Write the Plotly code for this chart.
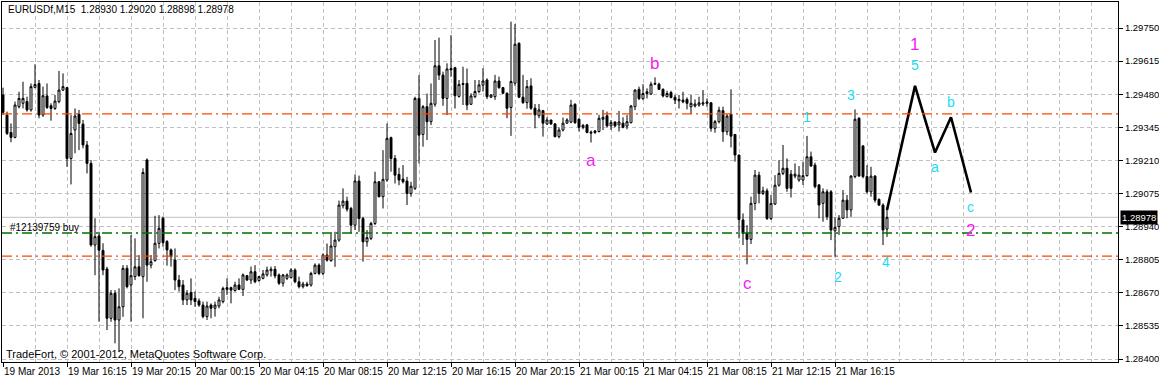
import plotly.graph_objects as go

# ---------------- data ----------------
bar_index = list(range(222))

open_ = [
1.29477,1.29395,1.29324,1.29304,1.29429,1.29443,1.29450,1.29416,1.29508,1.29524,
1.29395,1.29473,1.29433,1.29422,1.29450,1.29497,1.29507,1.29218,1.29334,1.29398,
1.29358,1.29273,1.29198,1.28865,1.28902,1.28843,1.28767,1.28566,1.28668,1.28559,
1.28613,1.28770,1.28702,1.28736,1.28776,1.28736,1.29212,1.28783,1.28801,1.28872,
1.28974,1.28879,1.28845,1.28804,1.28722,1.28702,1.28641,1.28671,1.28647,1.28637,
1.28620,1.28573,1.28620,1.28607,1.28616,1.28634,1.28691,1.28691,1.28679,1.28702,
1.28684,1.28740,1.28722,1.28756,1.28720,1.28729,1.28743,1.28760,1.28766,1.28743,
1.28709,1.28729,1.28732,1.28763,1.28715,1.28695,1.28706,1.28702,1.28749,1.28783,
1.28749,1.28824,1.28801,1.28858,1.28885,1.29025,1.29044,1.29014,1.28946,1.29126,
1.28973,1.28878,1.28892,1.28953,1.29123,1.29062,1.29130,1.29303,1.29218,1.29153,
1.29134,1.29126,1.29075,1.29096,1.29463,1.29316,1.29429,1.29368,1.29439,1.29596,
1.29558,1.29463,1.29585,1.29588,1.29471,1.29524,1.29524,1.29439,1.29470,1.29491,
1.29517,1.29538,1.29468,1.29470,1.29534,1.29507,1.29484,1.29426,1.29525,1.29688,
1.29468,1.29446,1.29514,1.29423,1.29392,1.29413,1.29359,1.29375,1.29359,1.29307,
1.29334,1.29362,1.29366,1.29439,1.29378,1.29345,1.29355,1.29321,1.29324,1.29328,
1.29378,1.29392,1.29351,1.29367,1.29355,1.29362,1.29350,1.29364,1.29429,1.29500,
1.29462,1.29490,1.29481,1.29521,1.29521,1.29500,1.29470,1.29487,1.29467,1.29453,
1.29456,1.29459,1.29429,1.29432,1.29436,1.29440,1.29443,1.29445,1.29341,1.29368,
1.29413,1.29327,1.29399,1.29316,1.29232,1.28967,1.28912,1.28888,1.29035,1.29150,
1.29075,1.29086,1.28973,1.29032,1.29109,1.29157,1.29178,1.29154,1.29146,1.29130,
1.29130,1.29148,1.29225,1.29191,1.29110,1.29035,1.29082,1.29082,1.28923,1.28940,
1.28974,1.29048,1.29008,1.29144,1.29382,1.29269,1.29144,1.29082,1.29146,1.29051,
1.29028,1.28930]

high = [
1.29507,1.29409,1.29361,1.29450,1.29490,1.29531,1.29470,1.29524,1.29602,1.29538,
1.29511,1.29524,1.29443,1.29477,1.29575,1.29565,1.29509,1.29395,1.29422,1.29416,
1.29375,1.29289,1.29212,1.28974,1.28919,1.28872,1.28776,1.28681,1.28681,1.28688,
1.28783,1.28783,1.28906,1.28892,1.28824,1.29178,1.29218,1.28824,1.28984,1.28987,
1.28981,1.28885,1.28851,1.28851,1.28743,1.28722,1.28681,1.28729,1.28675,1.28647,
1.28634,1.28634,1.28627,1.28634,1.28654,1.28695,1.28729,1.28695,1.28715,1.28729,
1.28749,1.28743,1.28777,1.28783,1.28739,1.28763,1.28777,1.28777,1.28779,1.28749,
1.28747,1.28749,1.28770,1.28770,1.28736,1.28715,1.28715,1.28756,1.28790,1.28790,
1.28831,1.28871,1.28912,1.28919,1.29046,1.29096,1.29062,1.29021,1.29153,1.29148,
1.28980,1.28926,1.28960,1.29164,1.29126,1.29252,1.29361,1.29307,1.29232,1.29180,
1.29191,1.29143,1.29123,1.29470,1.29558,1.29436,1.29483,1.29524,1.29701,1.29711,
1.29572,1.29606,1.29721,1.29592,1.29538,1.29592,1.29585,1.29484,1.29538,1.29538,
1.29586,1.29545,1.29481,1.29559,1.29552,1.29508,1.29487,1.29776,1.29767,1.29691,
1.29559,1.29538,1.29545,1.29440,1.29440,1.29416,1.29386,1.29375,1.29362,1.29345,
1.29385,1.29382,1.29457,1.29443,1.29382,1.29359,1.29359,1.29332,1.29334,1.29396,
1.29416,1.29409,1.29375,1.29368,1.29412,1.29386,1.29395,1.29436,1.29500,1.29511,
1.29521,1.29504,1.29531,1.29549,1.29527,1.29504,1.29494,1.29494,1.29477,1.29477,
1.29490,1.29467,1.29477,1.29459,1.29470,1.29497,1.29463,1.29448,1.29375,1.29429,
1.29429,1.29399,1.29500,1.29316,1.29232,1.28994,1.28946,1.29062,1.29171,1.29164,
1.29103,1.29096,1.29069,1.29150,1.29211,1.29273,1.29218,1.29171,1.29198,1.29187,
1.29205,1.29310,1.29246,1.29201,1.29114,1.29096,1.29092,1.29089,1.28978,1.28987,
1.29089,1.29069,1.29150,1.29418,1.29386,1.29273,1.29191,1.29184,1.29150,1.29055,
1.29035,1.29020]

low = [
1.29395,1.29314,1.29284,1.29300,1.29422,1.29422,1.29409,1.29409,1.29504,1.29382,
1.29388,1.29420,1.29372,1.29416,1.29443,1.29493,1.29184,1.29112,1.29239,1.29252,
1.29259,1.29157,1.28858,1.28742,1.28552,1.28742,1.28518,1.28552,1.28464,1.28430,
1.28572,1.28688,1.28552,1.28722,1.28736,1.28566,1.28715,1.28770,1.28797,1.28851,
1.28858,1.28781,1.28777,1.28681,1.28675,1.28620,1.28620,1.28620,1.28613,1.28613,
1.28566,1.28559,1.28566,1.28573,1.28607,1.28627,1.28661,1.28627,1.28675,1.28681,
1.28657,1.28719,1.28706,1.28709,1.28715,1.28725,1.28736,1.28736,1.28729,1.28702,
1.28695,1.28722,1.28729,1.28709,1.28688,1.28688,1.28695,1.28695,1.28745,1.28742,
1.28742,1.28797,1.28797,1.28776,1.28878,1.29014,1.29001,1.28912,1.28926,1.28919,
1.28797,1.28858,1.28885,1.28946,1.29059,1.29014,1.29123,1.29164,1.29116,1.29109,
1.29116,1.29028,1.29062,1.29089,1.29198,1.29266,1.29293,1.29354,1.29429,1.29538,
1.29433,1.29395,1.29551,1.29422,1.29466,1.29436,1.29415,1.29436,1.29464,1.29484,
1.29491,1.29460,1.29464,1.29457,1.29502,1.29481,1.29382,1.29310,1.29514,1.29464,
1.29440,1.29421,1.29416,1.29341,1.29382,1.29307,1.29355,1.29355,1.29304,1.29300,
1.29328,1.29359,1.29362,1.29359,1.29328,1.29337,1.29321,1.29283,1.29318,1.29324,
1.29334,1.29345,1.29334,1.29345,1.29328,1.29341,1.29337,1.29361,1.29415,1.29456,
1.29456,1.29463,1.29477,1.29517,1.29497,1.29467,1.29467,1.29463,1.29440,1.29422,
1.29443,1.29418,1.29399,1.29426,1.29429,1.29432,1.29429,1.29327,1.29323,1.29361,
1.29286,1.29313,1.29263,1.29205,1.28892,1.28865,1.28786,1.28869,1.29007,1.29035,
1.29069,1.28967,1.28967,1.29028,1.29103,1.29150,1.29082,1.29059,1.29137,1.29123,
1.29110,1.29144,1.29184,1.29096,1.28974,1.28960,1.28967,1.28885,1.28817,1.28906,
1.28971,1.28974,1.28980,1.29137,1.29144,1.29137,1.29076,1.29062,1.29038,1.29024,
1.28865,1.28898]

close = [
1.29406,1.29320,1.29304,1.29436,1.29463,1.29463,1.29416,1.29511,1.29520,1.29395,
1.29474,1.29426,1.29422,1.29452,1.29497,1.29511,1.29218,1.29320,1.29391,1.29361,
1.29273,1.29198,1.28865,1.28899,1.28844,1.28763,1.28566,1.28668,1.28559,1.28613,
1.28770,1.28695,1.28740,1.28776,1.28740,1.29161,1.28783,1.28797,1.28872,1.28933,
1.28875,1.28845,1.28817,1.28722,1.28695,1.28641,1.28668,1.28641,1.28634,1.28620,
1.28573,1.28616,1.28607,1.28620,1.28641,1.28688,1.28684,1.28681,1.28702,1.28684,
1.28743,1.28722,1.28756,1.28715,1.28736,1.28747,1.28763,1.28766,1.28739,1.28709,
1.28743,1.28743,1.28763,1.28715,1.28695,1.28706,1.28699,1.28749,1.28783,1.28749,
1.28824,1.28803,1.28861,1.28885,1.29028,1.29044,1.29011,1.28946,1.29126,1.28973,
1.28878,1.28895,1.28953,1.29123,1.29062,1.29133,1.29300,1.29218,1.29150,1.29130,
1.29123,1.29075,1.29105,1.29463,1.29313,1.29429,1.29368,1.29443,1.29596,1.29558,
1.29463,1.29583,1.29579,1.29474,1.29520,1.29520,1.29436,1.29473,1.29491,1.29518,
1.29534,1.29470,1.29477,1.29534,1.29507,1.29484,1.29423,1.29532,1.29684,1.29468,
1.29446,1.29511,1.29423,1.29396,1.29416,1.29362,1.29375,1.29359,1.29307,1.29334,
1.29362,1.29375,1.29436,1.29364,1.29345,1.29353,1.29324,1.29325,1.29330,1.29382,
1.29386,1.29351,1.29364,1.29351,1.29367,1.29345,1.29368,1.29432,1.29497,1.29462,
1.29483,1.29483,1.29521,1.29524,1.29500,1.29473,1.29483,1.29467,1.29456,1.29459,
1.29449,1.29443,1.29443,1.29440,1.29445,1.29445,1.29448,1.29341,1.29368,1.29415,
1.29327,1.29391,1.29309,1.29232,1.28969,1.28912,1.28888,1.29035,1.29150,1.29075,
1.29086,1.28973,1.29035,1.29109,1.29157,1.29178,1.29096,1.29096,1.29154,1.29150,
1.29148,1.29225,1.29187,1.29103,1.29028,1.29082,1.28980,1.28926,1.28937,1.28974,
1.29048,1.29008,1.29146,1.29378,1.29146,1.29144,1.29082,1.29146,1.29048,1.29028,
1.28926,1.28978]

# time axis labels (bar index of each label)
tick_bars = [0, 16, 32, 48, 64, 80, 96, 112, 128, 144, 160, 176, 192, 208]
tick_text = ["19 Mar 2013", "19 Mar 16:15", "19 Mar 20:15", "20 Mar 00:15",
             "20 Mar 04:15", "20 Mar 08:15", "20 Mar 12:15", "20 Mar 16:15",
             "20 Mar 20:15", "21 Mar 00:15", "21 Mar 04:15", "21 Mar 08:15",
             "21 Mar 12:15", "21 Mar 16:15"]

price_ticks = [1.28400, 1.28535, 1.28670, 1.28805, 1.28940, 1.29075,
               1.29210, 1.29345, 1.29480, 1.29615, 1.29750]
price_tick_text = ["1.28400", "1.28535", "1.28670", "1.28805", "1.28940", "1.29075",
                   "1.29210", "1.29345", "1.29480", "1.29615", "1.29750"]

# horizontal levels
level_upper = 1.29400
level_lower = 1.28820
order_price = 1.28914
bid_price = 1.28978

# projected wave path (bar index, price)
zz_bars = [221, 228, 233, 237, 242]
zz_prices = [1.29008, 1.29514, 1.29242, 1.29386, 1.29079]

# wave labels
cyan_text = ["1", "2", "3", "4", "5", "a", "b", "c"]
cyan_bars = [201, 208.8, 212, 220.8, 228, 233, 237, 241.9]
cyan_prices = [1.29389, 1.28736, 1.29477, 1.28797, 1.29600, 1.29185, 1.29450, 1.29021]

magenta_text = ["a", "b", "c", "1", "2"]
magenta_bars = [147, 162.8, 186, 227.8, 241.9]
magenta_prices = [1.29208, 1.29604, 1.28709, 1.29681, 1.28926]

# ---------------- figure ----------------
FONT = "Liberation Sans, Arial, sans-serif"
GRID = "#c0c0c0"
LEVEL_DASH = "10px,4px,2px,4px"

fig = go.Figure()

fig.add_trace(go.Candlestick(
    x=bar_index, open=open_, high=high, low=low, close=close,
    increasing=dict(line=dict(color="black", width=1), fillcolor="white"),
    decreasing=dict(line=dict(color="black", width=1), fillcolor="black"),
    whiskerwidth=0, showlegend=False, hoverinfo="skip",
))

fig.add_trace(go.Scatter(
    x=zz_bars, y=zz_prices, mode="lines",
    line=dict(color="black", width=2.6), showlegend=False, hoverinfo="skip",
))

shapes = [
    dict(type="line", xref="paper", x0=0, x1=1, yref="y", y0=bid_price, y1=bid_price,
         line=dict(color="#c0c0c0", width=1), layer="below"),
    dict(type="line", xref="paper", x0=0, x1=1, yref="y", y0=level_upper, y1=level_upper,
         line=dict(color="#ff4500", width=1.3, dash=LEVEL_DASH)),
    dict(type="line", xref="paper", x0=0, x1=1, yref="y", y0=level_lower, y1=level_lower,
         line=dict(color="#ff4500", width=1.3, dash=LEVEL_DASH)),
    dict(type="line", xref="paper", x0=0, x1=1, yref="y", y0=order_price, y1=order_price,
         line=dict(color="#007000", width=1.3, dash=LEVEL_DASH)),
]

annotations = []
for t, bx, p in zip(cyan_text, cyan_bars, cyan_prices):
    annotations.append(dict(x=bx, y=p, xref="x", yref="y", text=t, showarrow=False,
                            font=dict(family=FONT, size=14, color="#1adcf2"),
                            xanchor="center", yanchor="middle"))
for t, bx, p in zip(magenta_text, magenta_bars, magenta_prices):
    annotations.append(dict(x=bx, y=p, xref="x", yref="y", text=t, showarrow=False,
                            font=dict(family=FONT, size=17, color="#f21cf2"),
                            xanchor="center", yanchor="middle"))

annotations += [
    dict(x=0.004, y=0.978, xref="paper", yref="paper", xanchor="left", yanchor="middle",
         text="EURUSDf,M15  1.28930 1.29020 1.28898 1.28978", showarrow=False,
         font=dict(family=FONT, size=10, color="black")),
    dict(x=0.002, y=0.022, xref="paper", yref="paper", xanchor="left", yanchor="middle",
         text="TradeFort, © 2001-2012, MetaQuotes Software Corp.", showarrow=False,
         font=dict(family=FONT, size=11, color="black")),
    dict(x=1.25, y=1.28936, xref="x", yref="y", xanchor="left", yanchor="middle",
         text="#12139759 buy", showarrow=False,
         font=dict(family=FONT, size=10, color="black")),
    dict(x=1, y=bid_price, xref="paper", yref="y", xanchor="left", yanchor="middle",
         xshift=2, text="1.28978", showarrow=False, bgcolor="black", borderpad=1,
         font=dict(family=FONT, size=9.5, color="white")),
]

fig.update_layout(
    width=1159, height=379,
    margin=dict(l=2, r=41, t=2, b=17, autoexpand=False),
    paper_bgcolor="white", plot_bgcolor="white",
    shapes=shapes, annotations=annotations,
    showlegend=False,
    font=dict(family=FONT, size=10, color="black"),
)

fig.update_xaxes(
    range=[-0.25, 278.75], rangeslider=dict(visible=False),
    tickmode="array", tickvals=tick_bars, ticktext=tick_text,
    tickangle=0, automargin=False,
    ticklabelposition="outside right",
    ticks="outside", ticklen=4, tickcolor="black",
    tickfont=dict(family=FONT, size=10, color="black"),
    showgrid=True, gridcolor=GRID, griddash="4px,3px", gridwidth=1,
    minor=dict(tickmode="linear", tick0=0, dtick=8, showgrid=True,
               gridcolor=GRID, griddash="4px,3px", gridwidth=1, ticklen=0),
    showline=True, linecolor="black", linewidth=1, mirror=True,
    zeroline=False, fixedrange=True,
)

fig.update_yaxes(
    range=[1.283878, 1.298562], side="right", automargin=False,
    tickmode="array", tickvals=price_ticks, ticktext=price_tick_text,
    ticks="outside", ticklen=4, tickcolor="black",
    tickfont=dict(family=FONT, size=9.5, color="black"),
    showgrid=True, gridcolor=GRID, griddash="4px,3px", gridwidth=1,
    showline=True, linecolor="black", linewidth=1, mirror=True,
    zeroline=False, fixedrange=True,
)

fig.write_html("out.html")
